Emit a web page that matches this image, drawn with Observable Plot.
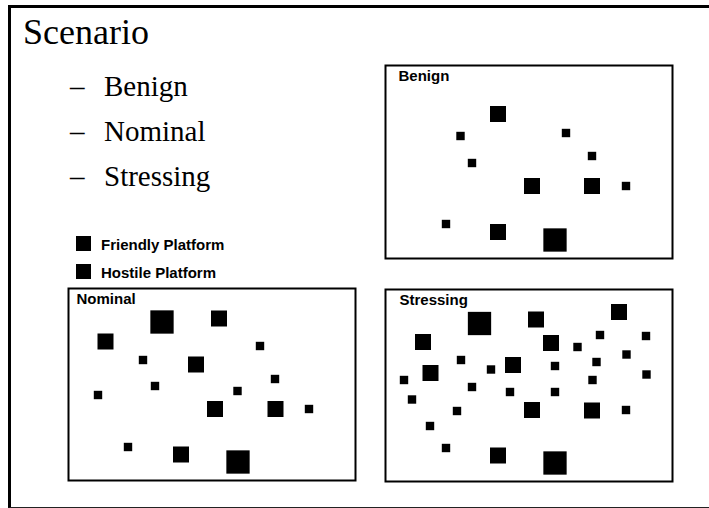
<!DOCTYPE html>
<html>
<head>
<meta charset="utf-8">
<script src="https://cdn.jsdelivr.net/npm/d3@7"></script>
<script src="https://cdn.jsdelivr.net/npm/@observablehq/plot@0.6"></script>
<style>
  html, body { margin: 0; padding: 0; background: #fff; }
  #slide { position: relative; width: 709px; height: 508px; overflow: hidden; background: #fff; }
  #border { position: absolute; left: 8px; top: 5px; width: 720px; height: 499px;
            border-top: 3px solid #000; border-left: 3px solid #000; border-bottom: 1.5px solid #222; }
  .serif { position: absolute; font-family: "Liberation Serif", "Times New Roman", serif; color: #000; white-space: nowrap; line-height: 1; }
  .leg { position: absolute; font-family: "Liberation Sans", Arial, sans-serif; font-weight: bold; font-size: 15px; color: #000; white-space: nowrap; line-height: 1; }
  .legsq { position: absolute; width: 15px; height: 15px; background: #000; }
</style>
</head>
<body>
<div id="slide">
  <div id="border"></div>
</div>
<script>
// ---- data (panel-local coordinates) ----
const scenarios = ["Benign", "Nominal", "Stressing"];
const bullets = ["Benign", "Nominal", "Stressing"];
const legendLabels = ["Friendly Platform", "Hostile Platform"];

const benignX    = [113, 75.5, 181, 87, 207, 147, 207, 241, 61, 113, 170];
const benignY    = [49, 71, 68, 98, 91, 121, 121, 121, 159, 167, 175];
const benignSize = ["M","S","S","S","S","M","M","S","S","M","L"];

const nominalX    = [94, 151, 37.5, 192, 75, 128, 207, 87, 169.5, 30, 147, 207.5, 241, 60, 113, 170];
const nominalY    = [34, 30.5, 53.5, 58, 72, 76.5, 91, 98, 103, 107, 121, 121, 121, 159, 166.5, 174];
const nominalSize = ["L","M","M","S","S","M","S","S","S","S","M","M","S","S","M","L"];

const stressingX    = [94.5, 151, 234, 38, 166, 215, 261, 192.5, 76, 241.5, 211.5, 106, 128, 170, 45.5, 261.5, 19, 207.5, 87, 125, 170, 27, 147, 207, 72, 241, 45, 61, 113, 170];
const stressingY    = [34.5, 30.5, 23, 53, 54, 46, 47, 58, 71, 65.5, 73, 80.5, 76, 77, 84, 85.5, 91, 91, 98, 103, 103, 110.5, 121, 121.5, 122, 121, 137, 159, 166.5, 174];
const stressingSize = ["L","M","M","M","M","S","S","S","S","S","S","S","M","S","M","S","S","S","S","S","S","S","M","M","S","S","S","S","M","L"];

// ---- layout / style ----
const side = {S: 8.4, M: 16, L: 23.3};
const panels = [
  {name: scenarios[0], left: 385, top: 65,  w: 287, h: 193, dx: 13, xs: benignX,    ys: benignY,    cls: benignSize},
  {name: scenarios[1], left: 68,  top: 288, w: 287, h: 192, dx: 8,  xs: nominalX,   ys: nominalY,   cls: nominalSize},
  {name: scenarios[2], left: 385, top: 289, w: 287, h: 192, dx: 14, xs: stressingX, ys: stressingY, cls: stressingSize}
];

const slide = document.getElementById("slide");

function addText(cls, txt, left, top, size) {
  const d = document.createElement("div");
  d.className = cls;
  d.textContent = txt;
  d.style.left = left + "px";
  d.style.top = top + "px";
  if (size) d.style.fontSize = size + "px";
  slide.appendChild(d);
  return d;
}

// Title and bullets (serif)
addText("serif", "Scenario", 23, 14, 36);
const bulletBaselines = [97, 142, 187];
bullets.forEach((b, i) => {
  addText("serif", "\u2013", 70, bulletBaselines[i] - 25.5, 29);
  addText("serif", b, 104, bulletBaselines[i] - 25.5, 29);
});

// Legend
const legendBaselines = [250.5, 278.5];
legendLabels.forEach((t, i) => {
  const sq = document.createElement("div");
  sq.className = "legsq";
  sq.style.left = "76px";
  sq.style.top = (legendBaselines[i] - 14.5) + "px";
  slide.appendChild(sq);
  addText("leg", t, 101, legendBaselines[i] - 13.5);
});

// Panels
panels.forEach(p => {
  const data = p.xs.map((x, i) => ({x, y: p.ys[i], c: p.cls[i]}));
  const half = d => side[d.c] / 2;
  const chart = Plot.plot({
    width: p.w + 2,
    height: p.h + 2,
    margin: 1,
    x: {domain: [0, p.w], axis: null},
    y: {domain: [0, p.h], axis: null, reverse: true},
    style: {background: "transparent", overflow: "visible", fontFamily: "Liberation Sans, Arial, sans-serif"},
    marks: [
      Plot.rect(data, {
        x1: d => d.x - half(d), x2: d => d.x + half(d),
        y1: d => d.y - half(d), y2: d => d.y + half(d),
        fill: "#000"
      }),
      Plot.frame({stroke: "#000", strokeWidth: 2}),
      Plot.text([p.name], {
        frameAnchor: "top-left", textAnchor: "start", lineAnchor: "top",
        dx: p.dx, dy: 4.5, fontSize: 15, fontWeight: "bold", fill: "#000"
      })
    ]
  });
  chart.style.position = "absolute";
  chart.style.left = (p.left - 1) + "px";
  chart.style.top = (p.top - 1) + "px";
  slide.appendChild(chart);
});
</script>
</body>
</html>
